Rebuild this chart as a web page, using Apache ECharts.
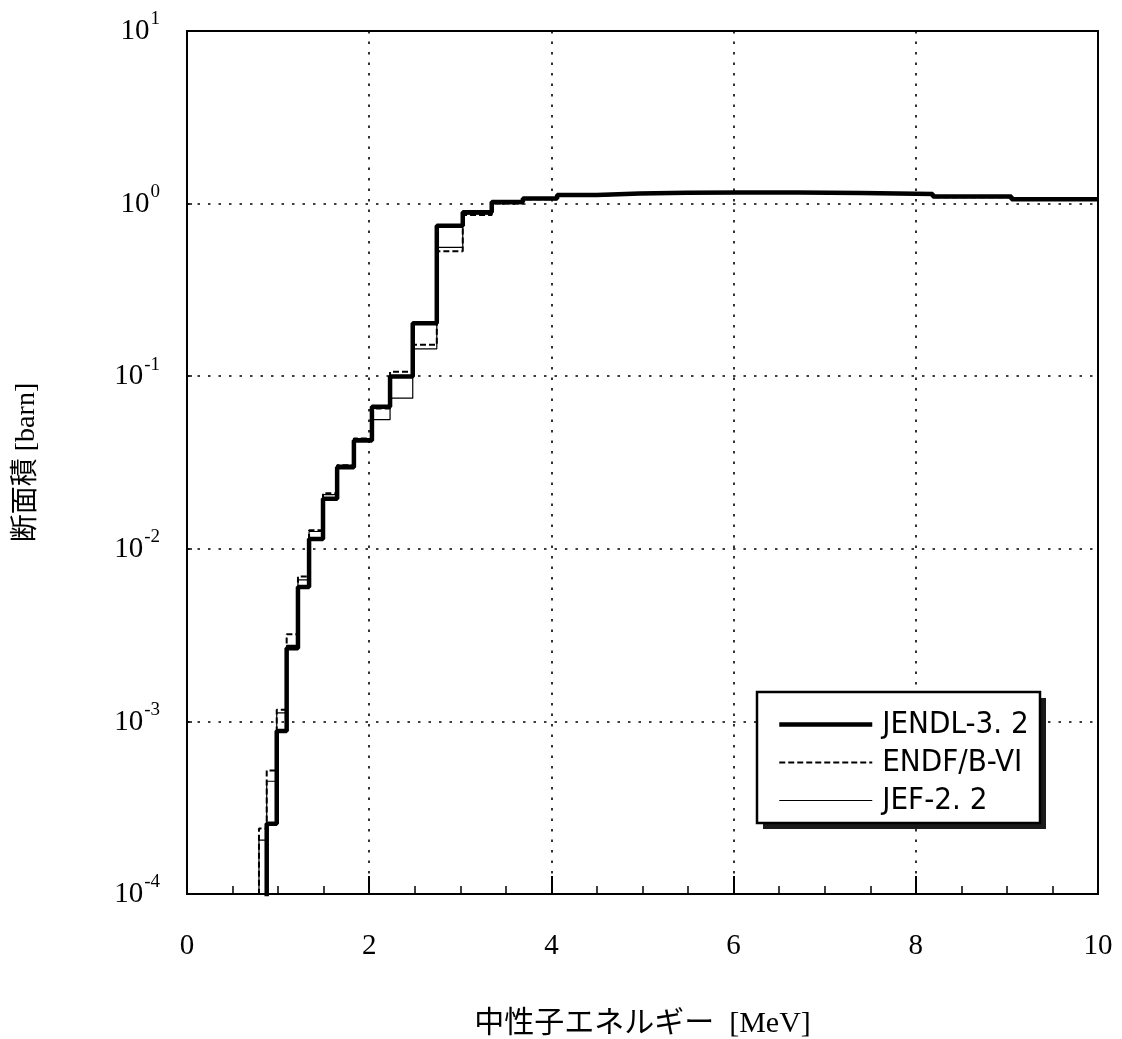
<!DOCTYPE html>
<html><head><meta charset="utf-8">
<script src="https://cdn.jsdelivr.net/npm/echarts@6/dist/echarts.min.js"></script>
<style>html,body{margin:0;padding:0;background:#fff}#c{width:1122px;height:1039px}</style>
</head><body><div id="c"></div>
<script>
// Group boundaries (MeV), lowest to highest
const groupEdges = [0.70, 0.79, 0.875, 0.985, 1.094, 1.218, 1.340, 1.493, 1.648, 1.832, 2.030,
  2.229, 2.478, 2.742, 3.027, 3.345, 3.687, 4.063, 4.497, 4.968, 5.488, 6.065, 6.703, 7.408,
  8.187, 9.05, 10.0];
// Group cross sections (barn); 1e-5 means below the plotted range
const jendl = [1e-5, 1e-5, 2.55e-4, 8.8e-4, 2.65e-3, 6.0e-3, 1.14e-2, 1.95e-2, 2.97e-2, 4.24e-2,
  6.65e-2, 0.0995, 0.203, 0.744, 0.89, 1.02, 1.07, 1.12, 1.145, 1.155, 1.16, 1.16, 1.15, 1.135, 1.10, 1.06];
const endf = [1e-5, 2.4e-4, 5.2e-4, 1.17e-3, 3.2e-3, 6.9e-3, 1.28e-2, 2.1e-2, 3.05e-2, 4.35e-2,
  6.5e-2, 0.106, 0.152, 0.53, 0.86, 1.0, 1.06, 1.11, 1.14, 1.15, 1.155, 1.155, 1.145, 1.13, 1.09, 1.05];
const jef = [1e-5, 2.05e-4, 4.5e-4, 1.12e-3, 2.76e-3, 6.6e-3, 1.26e-2, 2.06e-2, 3.05e-2, 4.35e-2,
  5.6e-2, 0.0746, 0.144, 0.557, 0.87, 1.0, 1.06, 1.11, 1.14, 1.15, 1.155, 1.155, 1.145, 1.13, 1.09, 1.05];
const seriesNames = ['JENDL-3. 2', 'ENDF/B-VI', 'JEF-2. 2'];
const xTitle = '中性子エネルギー  [MeV]';
const yTitle = '断面積 [barn]';

function stepData(vals) {
  const d = vals.map((v, i) => [groupEdges[i], v]);
  d.push([groupEdges[groupEdges.length - 1], vals[vals.length - 1]]);
  return d;
}

const serif = "'Liberation Serif', 'DejaVu Serif', serif";
const titleFont = "'Liberation Serif', 'Noto Sans CJK JP', serif";
const chart = echarts.init(document.getElementById('c'));
const dotted = { color: '#000', width: 1.6, type: [2.5, 8] };
const styles = [
  { color: '#000', width: 4.5, type: 'solid' },
  { color: '#000', width: 2, type: [6, 3] },
  { color: '#000', width: 1.2, type: 'solid' }
];
const noSym = { color: 'rgba(0,0,0,0)', borderColor: 'rgba(0,0,0,0)', borderWidth: 0 };

chart.setOption({
  animation: false,
  backgroundColor: '#fff',
  grid: { left: 187, right: 24, top: 31, bottom: 145, show: true, borderColor: '#000', borderWidth: 2,
    containLabel: false, outerBoundsMode: 'none' },
  graphic: [
    { type: 'rect', z: 50, shape: { x: 763, y: 698, width: 283, height: 131 }, style: { fill: '#1a1a1a' } },
    { type: 'rect', z: 51, shape: { x: 757, y: 692, width: 283, height: 131 }, style: { fill: '#fff', stroke: '#000', lineWidth: 2.5 } }
  ],
  legend: {
    data: seriesNames.map((n, i) => ({ name: n, lineStyle: styles[i], itemStyle: noSym })),
    orient: 'vertical',
    left: 777, top: 709,
    padding: 0, z: 60,
    itemWidth: 93, itemHeight: 22, itemGap: 7,
    selectedMode: false,
    itemStyle: noSym,
    textStyle: { fontFamily: "'Liberation Sans Narrow', 'DejaVu Sans Condensed', 'Noto Sans'", fontSize: 31, lineHeight: 30, color: '#000', padding: [0, 0, 0, 5] }
  },
  xAxis: {
    type: 'value', min: 0, max: 10, interval: 2,
    name: xTitle, nameLocation: 'middle', nameGap: 115,
    nameTextStyle: { fontFamily: titleFont, fontSize: 30, color: '#000' },
    axisLine: { lineStyle: { color: '#000', width: 2 } },
    axisTick: { inside: true, length: 18, lineStyle: { color: '#000', width: 2 } },
    minorTick: { show: true, splitNumber: 4, length: 8, lineStyle: { color: '#000', width: 1.5 } },
    axisLabel: { fontFamily: serif, fontSize: 29, color: '#000', margin: 38 },
    splitLine: { show: true, lineStyle: dotted }
  },
  yAxis: {
    type: 'log', logBase: 10, min: 1e-4, max: 10,
    name: yTitle, nameLocation: 'middle', nameGap: 146, nameRotate: 90,
    nameTextStyle: { fontFamily: titleFont, fontSize: 28, color: '#000' },
    axisLine: { lineStyle: { color: '#000', width: 2 } },
    axisTick: { inside: true, length: 5, lineStyle: { color: '#000', width: 1.5 } },
    axisLabel: {
      margin: 27, color: '#000',
      formatter: v => '{b|10}{s|' + Math.round(Math.log10(v)) + '}',
      rich: {
        b: { fontFamily: serif, fontSize: 29, lineHeight: 30, verticalAlign: 'bottom' },
        s: { fontFamily: serif, fontSize: 19, lineHeight: 18, verticalAlign: 'bottom', padding: [0, 0, 17, 1] }
      }
    },
    splitLine: { show: true, lineStyle: dotted }
  },
  series: [
    { name: seriesNames[2], type: 'line', step: 'end', symbol: 'none', clip: true,
      data: stepData(jef), lineStyle: styles[2], itemStyle: { color: '#000' }, z: 3 },
    { name: seriesNames[1], type: 'line', step: 'end', symbol: 'none', clip: true,
      data: stepData(endf), lineStyle: styles[1], itemStyle: { color: '#000' }, z: 4 },
    { name: seriesNames[0], type: 'line', step: 'end', symbol: 'none', clip: true,
      data: stepData(jendl), lineStyle: styles[0], itemStyle: { color: '#000' }, z: 5 }
  ]
});
</script></body></html>
